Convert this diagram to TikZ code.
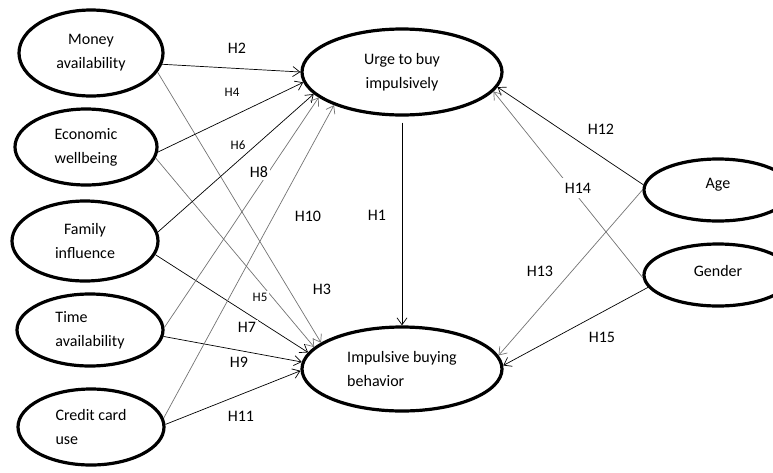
\documentclass[tikz,border=0pt]{standalone}
\usepackage{fontspec}
\setmainfont{Carlito}
\usepackage{tikz}
\usetikzlibrary{positioning}
\usetikzlibrary{shapes.geometric, arrows.meta}
\tikzstyle{construct} = [ellipse, draw, line width=3.2pt, inner sep=0pt, font=\fontsize{16}{24}\selectfont]
\tikzstyle{arrow} = [line width=0.7pt, -{Straight Barb[length=7pt,width=10pt]}]
\tikzstyle{grayarrow} = [arrow, black!55]
\tikzstyle{hyp} = [fill=white, inner sep=2pt, font=\fontsize{16}{16}\selectfont]
\tikzstyle{hypsmall} = [hyp, font=\fontsize{13}{13}\selectfont]

\begin{document}
\begin{tikzpicture}[x=1pt,y=-1pt]
\useasboundingbox (0,0) rectangle (773,472);

%Nodes
\node[construct, minimum width=144pt, minimum height=86pt, align=center] (money) at (91,53) {Money\\availability};
\node[construct, minimum width=142pt, minimum height=76pt, align=center] (econ) at (86,147) {Economic\\wellbeing};
\node[construct, minimum width=146pt, minimum height=80pt, align=center] (family) at (85,241) {Family\\influence};
\node[construct, minimum width=146pt, minimum height=72pt, align=left] (time) at (90,330) {Time\\availability};
\node[construct, minimum width=146pt, minimum height=76pt, align=left] (credit) at (91,427) {Credit card\\use};
\node[construct, minimum width=200pt, minimum height=86pt, align=center] (urge) at (402,72) {Urge to buy\\impulsively};
\node[construct, minimum width=200pt, minimum height=84pt, align=left] (impulsive) at (402,369) {Impulsive buying\\behavior};
\node[construct, minimum width=148pt, minimum height=62pt, text depth=13pt] (age) at (718,190) {Age};
\node[construct, minimum width=148pt, minimum height=62pt, text depth=9pt] (gender) at (718,275) {Gender};

%Arrows
\draw[arrow] (money.-9) -- (urge.180);
\draw[grayarrow] (money.-16) -- (impulsive.162);
\draw[arrow] (econ.-4) -- (urge.-174);
\draw[grayarrow] (econ.-9) -- (impulsive.166);
\draw[arrow] (family.7) -- (urge.-166);
\draw[arrow] (family.-11) -- (impulsive.170);
\draw[grayarrow] (time.2) -- (urge.-163);
\draw[arrow] (time.-5) -- (impulsive.176);
\draw[grayarrow] (credit.7) -- (urge.-154);
\draw[arrow] (credit.2) -- (impulsive.181);
\draw[arrow, shorten <=6pt] (urge) -- (impulsive);
\draw[arrow] (age.176) -- (urge.-9);
\draw[grayarrow] (gender.-178) -- (urge.-12);
\draw[grayarrow] (age.180) -- (impulsive.8);
\draw[arrow] (gender.-170) -- (impulsive.2);

%TextNodes
\node[hyp] (hTwo) at (237,48) {H2};
\node[hypsmall] (hFour) at (232,92) {H4};
\node[hypsmall] (hSix) at (238,145) {H6};
\node[hyp] (hEight) at (259,172) {H8};
\node[hyp] (hTen) at (308,216) {H10};
\node[hyp] (hOne) at (377,215) {H1};
\node[hyp] (hThree) at (322,289) {H3};
\node[hypsmall] (hFive) at (260,297) {H5};
\node[hyp] (hSeven) at (247,327) {H7};
\node[hyp] (hNine) at (239,362) {H9};
\node[hyp] (hEleven) at (241,416) {H11};
\node[hyp] (hTwelve) at (601,129) {H12};
\node[hyp, inner sep=5pt] (hFourteen) at (578,188) {H14};
\node[hyp] (hThirteen) at (540,271) {H13};
\node[hyp] (hFifteen) at (602,337) {H15};
\end{tikzpicture}
\end{document}
